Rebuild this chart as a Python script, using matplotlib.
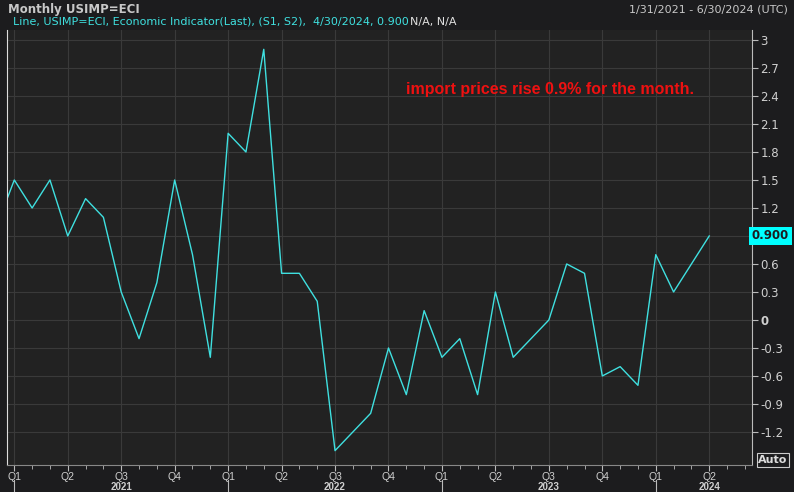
import matplotlib
matplotlib.use("Agg")
import matplotlib.pyplot as plt
from matplotlib.ticker import FixedLocator

# month index 0 = Jan 2021; index -1 = Dec 2020 (partially visible)
values = [1.0, 1.5, 1.2, 1.5, 0.9, 1.3, 1.1, 0.3, -0.2, 0.4, 1.5, 0.7, -0.4,
          2.0, 1.8, 2.9, 0.5, 0.5, 0.2, -1.4, -1.2, -1.0, -0.3, -0.8, 0.1,
          -0.4, -0.2, -0.8, 0.3, -0.4, -0.2, 0.0, 0.6, 0.5, -0.6, -0.5, -0.7,
          0.7, 0.3, 0.6, 0.9]
months = list(range(-1, len(values) - 1))
quarter_labels = ["Q1", "Q2", "Q3", "Q4"] * 3 + ["Q1", "Q2"]
years = ["2021", "2022", "2023", "2024"]
year_label_month = [6, 18, 30, 39]
yticks = [-1.2, -0.9, -0.6, -0.3, 0, 0.3, 0.6, 0.9, 1.2, 1.5, 1.8, 2.1, 2.4, 2.7, 3]
ytick_labels = ["-1.2", "-0.9", "-0.6", "-0.3", "0", "0.3", "0.6", "", "1.2",
                "1.5", "1.8", "2.1", "2.4", "2.7", "3"]

W, H = 794, 492
fig = plt.figure(figsize=(W / 100, H / 100), dpi=100, facecolor="#1c1c1e")
L, R, T, B = 7, 752, 30, 465
ax = fig.add_axes([L / W, 1 - B / H, (R - L) / W, (B - T) / H], facecolor="#222222")
ax.plot(months, values, color="#3fe0e0", lw=1.0)
ax.set_xlim(-0.41, 41.4)
ax.set_ylim(-1.554, 3.107)

for s in ax.spines.values():
    s.set_visible(False)
ax.spines["right"].set_visible(True)
ax.spines["right"].set_color("#bbbbbb")
ax.spines["bottom"].set_visible(True)
ax.spines["bottom"].set_color("#888888")
ax.spines["left"].set_visible(True)
ax.spines["left"].set_color("#dddddd")

qpos = list(range(0, 3 * len(quarter_labels), 3))
ax.xaxis.set_major_locator(FixedLocator(qpos))
ax.set_xticklabels(quarter_labels, color="#d0d0d0", fontsize=7.5, fontfamily="Liberation Sans")
ax.xaxis.set_minor_locator(FixedLocator(list(range(0, 42))))
ax.tick_params(axis="x", which="major", color="#bbbbbb", length=4, pad=1)
ax.tick_params(axis="x", which="minor", color="#bbbbbb", length=3)
ax.grid(True, which="major", color="#3a3a3a", lw=0.8)
ax.yaxis.tick_right()
ax.set_yticks(yticks)
ax.set_yticklabels(ytick_labels, color="#d0d0d0", fontsize=8.5)
ax.tick_params(axis="y", color="#bbbbbb", length=4, pad=2)
for lbl in ax.get_yticklabels():
    if lbl.get_text() == "0":
        lbl.set_fontweight("bold")

# year labels and separators
for i, (y, m) in enumerate(zip(years, year_label_month)):
    ax.text(m, -0.039, y, transform=ax.get_xaxis_transform(), ha="center",
            va="top", color="#d0d0d0", fontsize=7, fontweight="bold", clip_on=False,
            fontfamily="Liberation Sans")
    ax.plot([12 * i, 12 * i], [-0.035, -0.07], transform=ax.get_xaxis_transform(),
            color="#bbbbbb", lw=0.8, clip_on=False)

# last value box
ax.text(1.0, (0.9 + 1.554) / (3.107 + 1.554), "0.900", transform=ax.transAxes, ha="left",
        va="center", fontsize=8.5, fontweight="bold", color="#1c1c1e",
        bbox=dict(boxstyle="square,pad=0.25", fc="#00ffff", ec="none"))

fig.text(8 / W, 1 - 9 / H, "Monthly USIMP=ECI", color="#c8c8c8", fontsize=8.5,
         fontweight="bold", va="center")
fig.text(788 / W, 1 - 9 / H, "1/31/2021 - 6/30/2024 (UTC)", color="#c8c8c8", fontsize=8,
         ha="right", va="center")
fig.text(13 / W, 1 - 22 / H, "Line, USIMP=ECI, Economic Indicator(Last), (S1, S2),  4/30/2024, 0.900",
         color="#3fe0e0", fontsize=8, va="center")
fig.text(410 / W, 1 - 22 / H, "N/A, N/A", color="#e0e0e0", fontsize=8, va="center")
fig.text(406 / W, 1 - 90 / H, "import prices rise 0.9% for the month.",
         color="#ee1111", fontsize=11.5, fontweight="bold", fontfamily="Liberation Sans",
         va="center")
fig.text(773 / W, 1 - 460 / H, "Auto", color="#dddddd", fontsize=8, fontweight="bold",
         ha="center", va="center",
         bbox=dict(boxstyle="square,pad=0.15", fc="#1c1c1e", ec="#cccccc", lw=0.8))

fig.savefig("out.png", dpi=100, facecolor=fig.get_facecolor())
